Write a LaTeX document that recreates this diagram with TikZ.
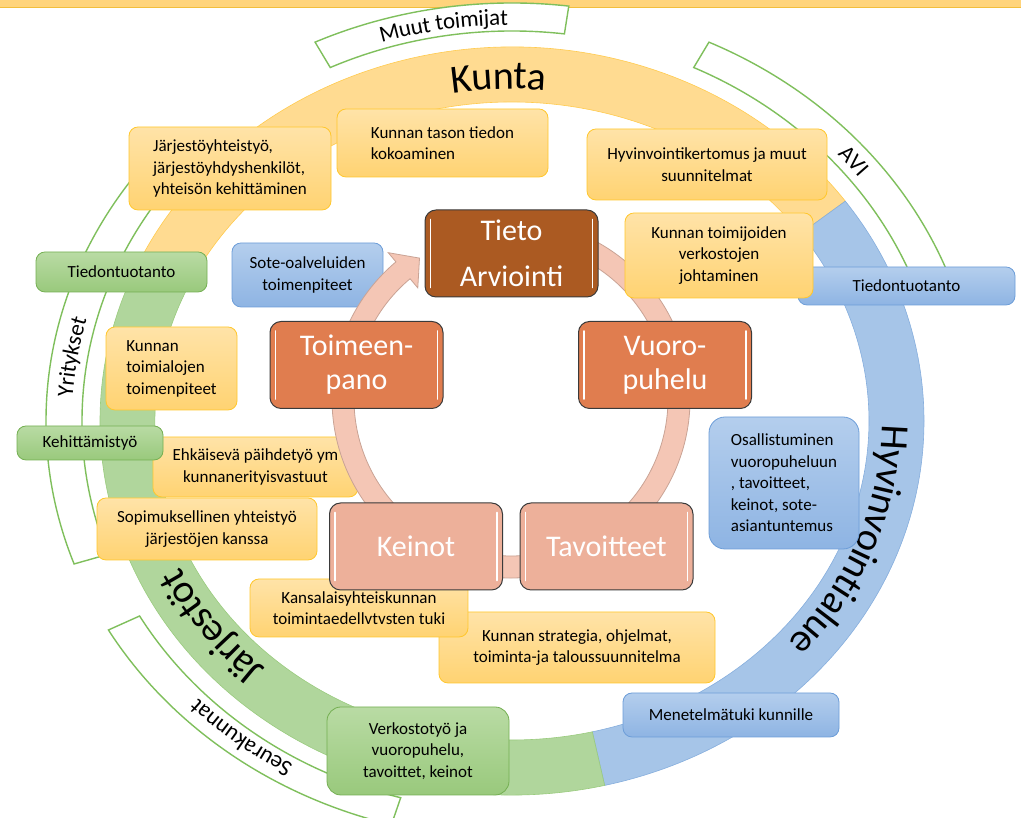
\documentclass[tikz,border=0pt]{standalone}
\usepackage{fontspec}
\setmainfont{Carlito}
\usetikzlibrary{decorations.text}

% colours of the SmartArt
\definecolor{stripfill}{HTML}{FFD47C}
\definecolor{stripline}{HTML}{F2BE3C}
\definecolor{kuntaband}{HTML}{FFDB91}
\definecolor{kuntaedge}{HTML}{FFCB4F}
\definecolor{hyteband}{HTML}{A6C5E8}
\definecolor{hyteedge}{HTML}{86AEDD}
\definecolor{jarjband}{HTML}{B0D69C}
\definecolor{jarjedge}{HTML}{9ACB7E}
\definecolor{ringline}{HTML}{7FBF5C}
\definecolor{ytop}{HTML}{FFE3A8}
\definecolor{ybot}{HTML}{FFD372}
\definecolor{yline}{HTML}{FFC72C}
\definecolor{btop}{HTML}{B4CEED}
\definecolor{bbot}{HTML}{8EB4E3}
\definecolor{bline}{HTML}{6C9DD8}
\definecolor{gtop}{HTML}{B9DBA4}
\definecolor{gbot}{HTML}{99C97C}
\definecolor{gline}{HTML}{74AF52}
\definecolor{tietofill}{HTML}{AB5A22}
\definecolor{midfill}{HTML}{E07D4F}
\definecolor{lowfill}{HTML}{EDB09A}
\definecolor{cyclefill}{HTML}{F4C6B5}
\definecolor{cycleline}{HTML}{C9A395}
\definecolor{phaseline}{HTML}{3A3A3A}

\newcommand{\boxfont}{\fontsize{17}{21.5}\selectfont}
\newcommand{\phasefont}{\fontsize{30}{34}\selectfont}
\newcommand{\bandfont}{\fontsize{40}{40}\selectfont}
\newcommand{\ringfont}{\fontsize{23}{23}\selectfont}

\begin{document}
\begin{tikzpicture}[
    x=1pt, y=1pt,
    infobox/.style={rounded corners=9pt, line width=0.8pt, inner sep=2pt, font=\boxfont, align=center},
    kuntabox/.style={infobox, draw=yline, top color=ytop, bottom color=ybot},
    hytebox/.style={infobox, draw=bline, top color=btop, bottom color=bbot},
    jarjbox/.style={infobox, draw=gline, top color=gtop, bottom color=gbot},
    phase/.style={rounded corners=11pt, draw=phaseline, line width=1pt, minimum width=173pt, minimum height=87pt, font=\phasefont, text=white, align=center},
    gloss/.style={white, line width=1.6pt, line cap=round},
    outerring/.style={fill=white, draw=ringline, line width=1.4pt}
  ]
  \useasboundingbox (0,0) rectangle (1021,818);
  \clip (0,0) rectangle (1021,818);

  % strip along the top edge
  \fill[stripfill] (0,810) rectangle (1021,818);
  \draw[stripline, line width=1pt] (0,810) -- (1021,810);

  \begin{scope}[shift={(512,397)}]
    % coloured band: Kunta, Hyvinvointialue, Jarjestot
    \foreach \from/\to/\fillc/\edgec in {155/36/kuntaband/kuntaedge, 36/-77/hyteband/hyteedge, -77/-205/jarjband/jarjedge} {
      \filldraw[fill=\fillc, draw=\edgec, line width=0.6pt]
        (\from:412pt and 374pt) arc[start angle=\from, end angle=\to, x radius=412pt, y radius=374pt]
        -- (\to:357pt and 319pt) arc[start angle=\to, end angle=\from, x radius=357pt, y radius=319pt] -- cycle;
    }

    % thin outer pieces (Muut toimijat, AVI, Yritykset, Seurakunnat)
    \foreach \from/\to in {115/83, 65/21, 200/145, 255/210} {
      \filldraw[outerring]
        (\from:466pt and 418pt) arc[start angle=\from, end angle=\to, x radius=466pt, y radius=418pt]
        -- (\to:430pt and 390pt) arc[start angle=\to, end angle=\from, x radius=430pt, y radius=390pt] -- cycle;
    }

    % labels along the band
    \path[decorate, decoration={text along path, text align=center, raise=-14pt, text={|\bandfont|Kunta}}]
      (112:384pt and 346pt) arc[start angle=112, end angle=72, x radius=384pt, y radius=346pt];
    \path[decorate, decoration={text along path, text align=center, raise=-14pt, text={|\bandfont|Hyvinvointialue}}]
      (10:384pt and 346pt) arc[start angle=10, end angle=-52, x radius=384pt, y radius=346pt];
    \path[decorate, decoration={text along path, text align=center, raise=-14pt, text={|\bandfont|Järjestöt}}]
      (240:384pt and 346pt) arc[start angle=240, end angle=194, x radius=384pt, y radius=346pt];

    % labels along the thin pieces
    \path[decorate, decoration={text along path, text align=center, raise=-8pt, text={|\ringfont|Muut toimijat}}]
      (125:448pt and 404pt) arc[start angle=125, end angle=73, x radius=448pt, y radius=404pt];
    \path[decorate, decoration={text along path, text align=center, raise=-8pt, text={|\ringfont|AVI}}]
      (55:448pt and 404pt) arc[start angle=55, end angle=25, x radius=448pt, y radius=404pt];
    \path[decorate, decoration={text along path, text align=center, raise=-8pt, text={|\ringfont|Yritykset}}]
      (195:448pt and 404pt) arc[start angle=195, end angle=147, x radius=448pt, y radius=404pt];
    \path[decorate, decoration={text along path, text align=center, raise=-8pt, text={|\ringfont|Seurakunnat}}]
      (255:448pt and 404pt) arc[start angle=255, end angle=209, x radius=448pt, y radius=404pt];
  \end{scope}

  % Kunta boxes
  \node[kuntabox, minimum width=202pt, minimum height=83pt, align=left] (jarjyht) at (230,649.5) {Järjestöyhteistyö,\\järjestöyhdyshenkilöt,\\yhteisön kehittäminen};
  \node[kuntabox, minimum width=211pt, minimum height=68pt, align=left] (tason) at (442.5,675) {Kunnan tason tiedon\\kokoaminen};
  \node[kuntabox, minimum width=240pt, minimum height=71pt] (kertomus) at (707,653.5) {Hyvinvointikertomus ja muut\\suunnitelmat};
  \node[kuntabox, minimum width=131pt, minimum height=83pt, align=left] (toimiala) at (171.5,449.5) {Kunnan\\toimialojen\\toimenpiteet};
  \node[kuntabox, minimum width=205pt, minimum height=60pt] (ehkaisy) at (255.5,351) {Ehkäisevä päihdetyö ym\\kunnanerityisvastuut};
  \node[kuntabox, minimum width=220pt, minimum height=62pt] (sopimus) at (207,289) {Sopimuksellinen yhteistyö\\järjestöjen kanssa};
  \node[kuntabox, minimum width=276pt, minimum height=71pt] (strategia) at (577,170.5) {Kunnan strategia, ohjelmat,\\toiminta-ja taloussuunnitelma};
  \node[kuntabox, minimum width=218pt, minimum height=58pt] (kansalais) at (359,210) {Kansalaisyhteiskunnan\\toimintaedellvtvsten tuki};

  % Hyvinvointialue boxes
  \node[hytebox, minimum width=151pt, minimum height=64pt] (sote) at (307.5,543) {Sote-oalveluiden\\toimenpiteet};
  \node[hytebox, minimum width=217pt, minimum height=38pt] (tiedoright) at (906.5,532) {Tiedontuotanto};
  \node[hytebox, rounded corners=16pt, minimum width=150pt, minimum height=132pt, align=left] (osallis) at (784,335) {Osallistuminen\\vuoropuheluun\\, tavoitteet,\\keinot, sote-\\asiantuntemus};
  \node[hytebox, minimum width=216pt, minimum height=44pt] (menetelma) at (731,103) {Menetelmätuki kunnille};

  % Jarjestot boxes
  \node[jarjbox, minimum width=171pt, minimum height=40pt] (tiedoleft) at (121.5,546) {Tiedontuotanto};
  \node[jarjbox, minimum width=146pt, minimum height=34pt] (kehitys) at (90,375) {Kehittämistyö};
  \node[jarjbox, rounded corners=14pt, minimum width=182pt, minimum height=88pt] (verkosto) at (418,67) {Verkostotyö ja\\vuoropuhelu,\\tavoittet, keinot};

  % cycle arrow behind the phases
  \begin{scope}[shift={(511,419)}]
    \filldraw[fill=cyclefill, draw=cycleline, line width=0.8pt]
      (100:179pt) arc[start angle=100, end angle=-230, radius=179pt]
      -- (-230:191pt) -- (-237:168pt) -- (-230:145pt) -- (-230:157pt)
      arc[start angle=-230, end angle=100, radius=157pt] -- cycle;
  \end{scope}

  \node[kuntabox, minimum width=188pt, minimum height=85pt] (toimijat) at (719,562.5) {Kunnan toimijoiden\\verkostojen\\johtaminen};

  % the five phases
  \node[phase, fill=tietofill] (tieto) at (511.5,564.5) {Tieto\\[12pt]Arviointi};
  \node[phase, fill=midfill] (toimeen) at (356.5,453) {Toimeen-\\pano};
  \node[phase, fill=midfill] (vuoro) at (665,453) {Vuoro-\\puhelu};
  \node[phase, fill=lowfill] (keinot) at (416,271.5) {Keinot};
  \node[phase, fill=lowfill] (tavoite) at (606.5,271.5) {Tavoitteet};
  \foreach \n in {tieto, toimeen, vuoro, keinot, tavoite} {
    \draw[gloss] ([xshift=6pt, yshift=-10pt]\n.north west) -- ([xshift=6pt, yshift=10pt]\n.south west);
    \draw[gloss] ([xshift=-6pt, yshift=-10pt]\n.north east) -- ([xshift=-6pt, yshift=10pt]\n.south east);
  }
\end{tikzpicture}
\end{document}
